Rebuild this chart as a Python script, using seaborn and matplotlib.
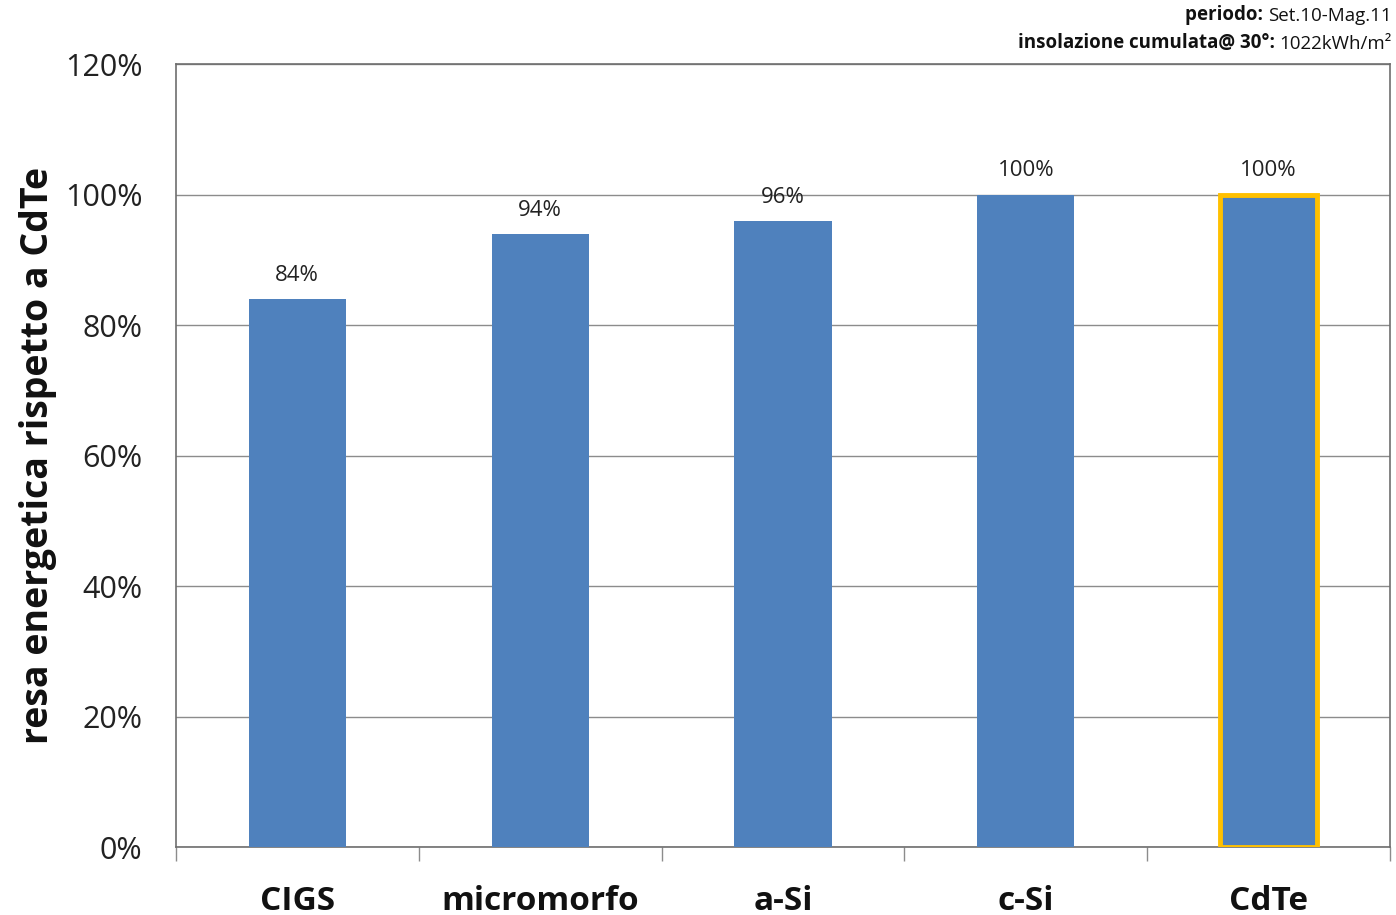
import matplotlib
matplotlib.use("Agg")
import matplotlib.pyplot as plt
import seaborn as sns
import pandas as pd

categories = ["CIGS", "micromorfo", "a-Si", "c-Si", "CdTe"]
values = [84, 94, 96, 100, 100]
value_labels = ["84%", "94%", "96%", "100%", "100%"]
y_ticks = [0, 20, 40, 60, 80, 100, 120]
y_tick_labels = ["0%", "20%", "40%", "60%", "80%", "100%", "120%"]

sns.set_theme(style="white")
plt.rcParams["font.family"] = ["Open Sans", "DejaVu Sans"]

df = pd.DataFrame({"tecnologia": categories, "resa": values})

fig = plt.figure(figsize=(13.96, 9.15), dpi=100)
ax = fig.add_axes([0.126, 0.0743, 0.8697, 0.8557])

sns.barplot(data=df, x="tecnologia", y="resa", order=categories,
            color="#4F81BD", saturation=1, width=0.4, ax=ax, zorder=3,
            linewidth=0)

# highlight the reference technology
ref = ax.patches[categories.index("CdTe")]
ref.set_edgecolor("#FFC000")
ref.set_linewidth(3.5)

for patch, lab in zip(ax.patches, value_labels):
    ax.text(patch.get_x() + patch.get_width() / 2, patch.get_height() + 2.0, lab,
            ha="center", va="bottom", fontsize=16, color="#222222")

ax.set_ylim(0, 120)
ax.set_xlim(-0.5, len(categories) - 0.5)
ax.set_yticks(y_ticks)
ax.set_yticklabels(y_tick_labels, fontsize=22, color="#222222")
ax.yaxis.grid(True, color="#8c8c8c", linewidth=1)
ax.set_axisbelow(True)

ax.set_xticks(range(len(categories)))
ax.set_xticklabels(categories, fontsize=24, fontweight="bold", color="#111111")
ax.tick_params(axis="x", length=0, pad=27)
ax.tick_params(axis="y", length=0, pad=24)

# category separator ticks under the axis
ax.set_xticks([i - 0.5 for i in range(len(categories) + 1)], minor=True)
ax.tick_params(axis="x", which="minor", length=10, width=1, color="#8c8c8c", direction="out")
ax.xaxis.set_tick_params(which="minor", bottom=True)

for side in ["left", "right", "top", "bottom"]:
    ax.spines[side].set_visible(True)
    ax.spines[side].set_color("#6e6e6e")
    ax.spines[side].set_linewidth(1.2)

ax.set_xlabel("")
ax.set_ylabel("resa energetica rispetto a CdTe", fontsize=27, fontweight="bold",
              color="#111111", labelpad=6)

# period / insolation note: bold key followed by plain value, right aligned
renderer = fig.canvas.get_renderer()
notes = [("periodo: ", "Set.10-Mag.11", 0.973),
         ("insolazione cumulata@ 30°: ", "1022kWh/m²", 0.942)]
for key, val, y in notes:
    t_val = fig.text(0.997, y, val, ha="right", va="bottom", fontsize=13.5, color="#111111")
    bb = t_val.get_window_extent(renderer=renderer).transformed(fig.transFigure.inverted())
    fig.text(bb.x0, y, key, ha="right", va="bottom", fontsize=13.5,
             fontweight="bold", color="#111111")

fig.savefig("out.png", dpi=100)
